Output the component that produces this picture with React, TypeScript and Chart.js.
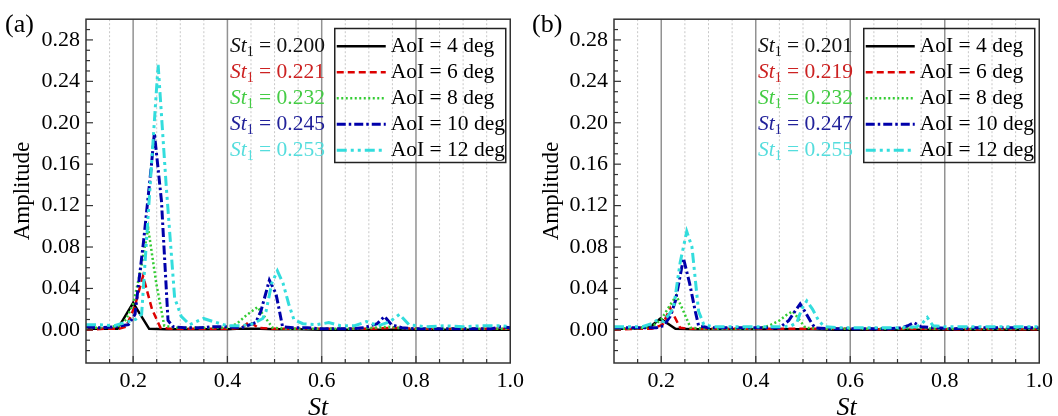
import React, { useEffect, useRef } from 'react';
import { Chart, registerables } from 'chart.js';
Chart.register(...registerables);

const FONT = "'Liberation Serif', 'Times New Roman', serif";

// ---- labels ----
const SERIES_LABELS = ['AoI = 4 deg', 'AoI = 6 deg', 'AoI = 8 deg', 'AoI = 10 deg', 'AoI = 12 deg'];
const ST1_A = ['0.200', '0.221', '0.232', '0.245', '0.253'];
const ST1_B = ['0.201', '0.219', '0.232', '0.247', '0.255'];
const PANEL_TAGS = ['(a)', '(b)'];
const X_TITLE = 'St';
const Y_TITLE = 'Amplitude';
const X_MIN = 0.1;
const X_MAX = 1.0;
const Y_MIN = -0.032;
const Y_MAX = 0.3;

// ---- panel (a) ----
const aX4 = [0.10, 0.13, 0.167, 0.200, 0.234, 0.27, 0.30, 0.35, 0.40, 0.42, 0.45, 0.47, 0.50, 0.55, 0.60, 0.65, 0.70, 0.75, 0.80, 0.85, 0.90, 0.95, 1.00];
const aY4 = [0.001, 0.001, 0.001, 0.026, 0.001, 0.0005, 0.0005, 0.0005, 0.0005, 0.001, 0.001, 0.001, 0.0005, 0.0005, 0.0, 0.0, 0.0, 0.0, 0.0, 0.0, 0.0, 0.0, 0.0];

const aX6 = [0.10, 0.14, 0.17, 0.185, 0.203, 0.221, 0.240, 0.258, 0.28, 0.32, 0.36, 0.40, 0.43, 0.447, 0.465, 0.50, 0.55, 0.60, 0.65, 0.70, 0.75, 0.80, 0.85, 0.90, 0.95, 1.00];
const aY6 = [0.000, 0.001, 0.001, 0.003, 0.022, 0.052, 0.020, 0.002, 0.001, 0.001, 0.001, 0.001, 0.002, 0.008, 0.002, 0.001, 0.001, 0.001, 0.001, 0.001, 0.002, 0.001, 0.001, 0.001, 0.001, 0.001];

const aX8 = [0.10, 0.14, 0.17, 0.185, 0.200, 0.216, 0.232, 0.249, 0.266, 0.29, 0.33, 0.37, 0.40, 0.42, 0.44, 0.464, 0.48, 0.496, 0.53, 0.57, 0.62, 0.67, 0.71, 0.74, 0.78, 0.83, 0.88, 0.93, 0.97, 1.00];
const aY8 = [0.002, 0.002, 0.004, 0.010, 0.025, 0.058, 0.098, 0.045, 0.004, 0.002, 0.002, 0.002, 0.002, 0.006, 0.014, 0.022, 0.012, 0.002, 0.001, 0.001, 0.001, 0.001, 0.002, 0.003, 0.001, 0.001, 0.001, 0.001, 0.001, 0.001];

const aX10 = [0.10, 0.13, 0.16, 0.19, 0.204, 0.222, 0.239, 0.245, 0.260, 0.274, 0.285, 0.31, 0.34, 0.37, 0.40, 0.43, 0.46, 0.471, 0.489, 0.503, 0.517, 0.54, 0.57, 0.60, 0.63, 0.66, 0.69, 0.718, 0.733, 0.748, 0.77, 0.80, 0.84, 0.88, 0.92, 0.96, 0.98, 1.00];
const aY10 = [0.003, 0.002, 0.003, 0.005, 0.015, 0.085, 0.160, 0.190, 0.125, 0.009, 0.003, 0.002, 0.002, 0.003, 0.003, 0.002, 0.007, 0.018, 0.048, 0.035, 0.003, 0.002, 0.002, 0.001, 0.001, 0.001, 0.002, 0.006, 0.013, 0.005, 0.002, 0.001, 0.001, 0.001, 0.001, 0.001, 0.003, 0.002];

const aX12 = [0.10, 0.13, 0.16, 0.19, 0.205, 0.218, 0.253, 0.270, 0.288, 0.302, 0.32, 0.349, 0.37, 0.40, 0.43, 0.455, 0.475, 0.482, 0.494, 0.506, 0.518, 0.530, 0.541, 0.56, 0.59, 0.615, 0.64, 0.67, 0.695, 0.72, 0.745, 0.765, 0.785, 0.82, 0.86, 0.90, 0.94, 0.98, 1.00];
const aY12 = [0.005, 0.005, 0.004, 0.008, 0.010, 0.015, 0.256, 0.140, 0.031, 0.013, 0.005, 0.011, 0.008, 0.004, 0.004, 0.006, 0.011, 0.018, 0.045, 0.057, 0.045, 0.025, 0.010, 0.006, 0.005, 0.007, 0.004, 0.004, 0.008, 0.004, 0.008, 0.015, 0.005, 0.003, 0.004, 0.003, 0.004, 0.004, 0.003];

// ---- panel (b) ----
const bX4 = [0.10, 0.14, 0.177, 0.198, 0.230, 0.27, 0.32, 0.37, 0.42, 0.47, 0.52, 0.57, 0.62, 0.67, 0.72, 0.77, 0.82, 0.87, 0.92, 0.97, 1.00];
const bY4 = [0.001, 0.001, 0.003, 0.011, 0.001, 0.0005, 0.0005, 0.0005, 0.0005, 0.0005, 0.0005, 0.0, 0.0, 0.0, 0.0, 0.0, 0.0, 0.0, 0.0, 0.0, 0.0];

const bX6 = [0.10, 0.14, 0.18, 0.203, 0.219, 0.240, 0.26, 0.30, 0.35, 0.40, 0.45, 0.486, 0.52, 0.57, 0.62, 0.67, 0.72, 0.77, 0.82, 0.87, 0.92, 0.97, 1.00];
const bY6 = [0.000, 0.001, 0.001, 0.005, 0.021, 0.002, 0.001, 0.001, 0.001, 0.001, 0.001, 0.001, 0.001, 0.001, 0.001, 0.0005, 0.001, 0.001, 0.0005, 0.0005, 0.0005, 0.0005, 0.0005];

const bX8 = [0.10, 0.14, 0.18, 0.20, 0.216, 0.232, 0.247, 0.262, 0.30, 0.35, 0.40, 0.428, 0.45, 0.464, 0.478, 0.492, 0.505, 0.54, 0.58, 0.62, 0.66, 0.70, 0.74, 0.78, 0.82, 0.86, 0.90, 0.95, 1.00];
const bY8 = [0.001, 0.001, 0.003, 0.010, 0.022, 0.033, 0.018, 0.002, 0.001, 0.001, 0.001, 0.004, 0.009, 0.014, 0.018, 0.010, 0.002, 0.001, 0.001, 0.001, 0.001, 0.001, 0.002, 0.001, 0.001, 0.001, 0.001, 0.001, 0.001];

const bX10 = [0.10, 0.13, 0.16, 0.19, 0.205, 0.219, 0.230, 0.247, 0.260, 0.272, 0.279, 0.30, 0.33, 0.36, 0.39, 0.42, 0.45, 0.470, 0.480, 0.494, 0.505, 0.515, 0.525, 0.56, 0.60, 0.64, 0.68, 0.71, 0.722, 0.735, 0.75, 0.78, 0.82, 0.86, 0.90, 0.94, 0.98, 1.00];
const bY10 = [0.002, 0.002, 0.002, 0.002, 0.004, 0.013, 0.028, 0.069, 0.045, 0.018, 0.004, 0.002, 0.002, 0.002, 0.002, 0.002, 0.002, 0.009, 0.016, 0.025, 0.017, 0.009, 0.002, 0.001, 0.001, 0.001, 0.001, 0.002, 0.004, 0.007, 0.003, 0.002, 0.001, 0.002, 0.002, 0.002, 0.002, 0.002];

const bX12 = [0.10, 0.13, 0.16, 0.18, 0.19, 0.205, 0.226, 0.240, 0.254, 0.265, 0.279, 0.290, 0.31, 0.34, 0.37, 0.40, 0.43, 0.46, 0.475, 0.487, 0.497, 0.508, 0.520, 0.533, 0.545, 0.58, 0.62, 0.66, 0.70, 0.74, 0.752, 0.763, 0.775, 0.80, 0.84, 0.88, 0.92, 0.96, 1.00];
const bY12 = [0.003, 0.003, 0.003, 0.006, 0.009, 0.008, 0.021, 0.065, 0.095, 0.080, 0.018, 0.005, 0.003, 0.003, 0.003, 0.003, 0.003, 0.003, 0.004, 0.007, 0.020, 0.028, 0.020, 0.009, 0.003, 0.002, 0.002, 0.002, 0.002, 0.003, 0.006, 0.012, 0.004, 0.003, 0.003, 0.003, 0.003, 0.003, 0.003];

// ---- styles ----
const LINE_COLORS = ['#000000', '#dd0000', '#33cc33', '#0000aa', '#33dddd'];
const TEXT_COLORS = ['#111111', '#cc2222', '#44cc44', '#22229a', '#55dddd'];
const LINE_DASHES: number[][] = [[], [7, 4], [2, 2.5], [9, 3, 2.5, 3], [10, 4, 3, 4, 3, 4]];
const LINE_WIDTHS = [2.5, 2.5, 2.5, 3, 3];

const isMult = (v: number, step: number) => Math.abs(v / step - Math.round(v / step)) < 1e-6;

function buildDatasets(xs: number[][], ys: number[][]) {
  return xs.map((xArr, k) => ({
    label: SERIES_LABELS[k],
    data: xArr.map((x, i) => ({ x, y: ys[k][i] })),
    borderColor: LINE_COLORS[k],
    backgroundColor: LINE_COLORS[k],
    borderDash: LINE_DASHES[k],
    borderWidth: LINE_WIDTHS[k],
    pointRadius: 0,
    fill: false,
    tension: 0,
    order: 5 - k,
  }));
}

const framePlugin = {
  id: 'frame',
  beforeDatasetsDraw(chart: any) {
    const { ctx, chartArea, scales } = chart;
    const { top, bottom } = chartArea;
    const x = scales.x;
    ctx.save();
    x.ticks.forEach((t: any) => {
      const v = t.value;
      if (v <= x.min + 1e-9 || v >= x.max - 1e-9) return;
      const px = x.getPixelForValue(v);
      const major = isMult(v, 0.2);
      ctx.beginPath();
      ctx.strokeStyle = major ? '#929292' : '#c8c8c8';
      ctx.lineWidth = major ? 1.5 : 1;
      ctx.setLineDash(major ? [] : [2, 2]);
      ctx.moveTo(px, top);
      ctx.lineTo(px, bottom);
      ctx.stroke();
    });
    ctx.restore();
  },
  afterDatasetsDraw(chart: any) {
    const { ctx, chartArea, scales } = chart;
    const { left, right, top, bottom } = chartArea;
    const x = scales.x;
    const y = scales.y;
    ctx.save();
    ctx.strokeStyle = '#333333';
    ctx.lineWidth = 1.2;
    ctx.setLineDash([]);
    x.ticks.forEach((t: any) => {
      const v = t.value;
      if (v <= x.min + 1e-9 || v >= x.max - 1e-9) return;
      const px = x.getPixelForValue(v);
      const len = isMult(v, 0.2) ? 7 : 4;
      ctx.beginPath();
      ctx.moveTo(px, bottom);
      ctx.lineTo(px, bottom - len);
      ctx.stroke();
    });
    y.ticks.forEach((t: any) => {
      const v = t.value;
      if (v <= y.min + 1e-9 || v >= y.max - 1e-9) return;
      const py = y.getPixelForValue(v);
      const len = isMult(v, 0.04) ? 7 : 4;
      ctx.beginPath();
      ctx.moveTo(left, py);
      ctx.lineTo(left + len, py);
      ctx.stroke();
    });
    ctx.lineWidth = 1.5;
    ctx.strokeRect(left, top, right - left, bottom - top);
    ctx.restore();
  },
  afterDraw(chart: any, _args: any, opts: any) {
    const { ctx, chartArea } = chart;
    const { left, right, top } = chartArea;
    ctx.save();
    ctx.textBaseline = 'middle';
    // panel tag
    ctx.fillStyle = '#000';
    ctx.textAlign = 'left';
    ctx.font = `26px ${FONT}`;
    ctx.fillText(opts.tag, opts.tagX, 25);
    // x title
    ctx.textAlign = 'center';
    ctx.font = `italic 26px ${FONT}`;
    ctx.fillText(X_TITLE, (left + right) / 2 + 20, chart.height - 8);

    const rowY = (i: number) => top + 27 + i * 26;
    // St1 annotations
    ctx.textAlign = 'left';
    (opts.st as string[]).forEach((val, i) => {
      const yy = rowY(i);
      let xx = left + 144;
      ctx.fillStyle = TEXT_COLORS[i];
      ctx.font = `italic 21.5px ${FONT}`;
      ctx.fillText('St', xx, yy);
      xx += ctx.measureText('St').width;
      ctx.font = `14px ${FONT}`;
      ctx.fillText('1', xx, yy + 6);
      xx += ctx.measureText('1').width;
      ctx.font = `21.5px ${FONT}`;
      ctx.fillText(' = ' + val, xx, yy);
    });
    // legend
    const boxW = 171;
    const boxL = right - 4.5 - boxW;
    const boxT = top + 9.3;
    const boxH = 134;
    ctx.strokeStyle = '#222';
    ctx.lineWidth = 1.5;
    ctx.setLineDash([]);
    ctx.strokeRect(boxL, boxT, boxW, boxH);
    chart.data.datasets.forEach((ds: any, i: number) => {
      const yy = rowY(i);
      ctx.beginPath();
      ctx.strokeStyle = ds.borderColor;
      ctx.lineWidth = ds.borderWidth;
      ctx.setLineDash(ds.borderDash || []);
      ctx.moveTo(boxL + 2, yy);
      ctx.lineTo(boxL + 51, yy);
      ctx.stroke();
      ctx.setLineDash([]);
      ctx.fillStyle = '#000';
      ctx.font = `21.5px ${FONT}`;
      ctx.fillText(ds.label, boxL + 56, yy);
    });
    ctx.restore();
  },
};

function makeConfig(datasets: any[], yWidth: number, padRight: number, tag: string, tagX: number, st: string[]) {
  return {
    type: 'line' as const,
    data: { datasets },
    options: {
      responsive: false,
      animation: false as const,
      layout: { padding: { left: 0, right: padRight, top: 16, bottom: 0 } },
      plugins: {
        legend: { display: false },
        tooltip: { enabled: false },
        frame: { tag, tagX, st },
      },
      scales: {
        x: {
          type: 'linear' as const,
          min: X_MIN,
          max: X_MAX,
          grid: { display: false, drawTicks: false },
          border: { display: false },
          ticks: {
            stepSize: 0.05,
            autoSkip: false,
            maxRotation: 0,
            padding: 5,
            color: '#000',
            font: { family: FONT, size: 22 },
            callback: (v: any) => (isMult(Number(v), 0.2) ? Number(v).toFixed(1) : ''),
          },
          afterFit: (s: any) => { s.height = 53; },
        },
        y: {
          type: 'linear' as const,
          min: Y_MIN,
          max: Y_MAX,
          grid: { display: false, drawTicks: false },
          border: { display: false },
          ticks: {
            stepSize: 0.01,
            autoSkip: false,
            padding: 6,
            color: '#000',
            font: { family: FONT, size: 22 },
            callback: (v: any) => {
              const n = Number(v);
              return isMult(n, 0.04) && n > -1e-9 && n < 0.2801 ? Math.abs(n).toFixed(2) : '';
            },
          },
          title: {
            display: true,
            text: Y_TITLE,
            color: '#000',
            font: { family: FONT, size: 23, lineHeight: 1 },
            padding: { top: 11.5, bottom: 0 },
          },
          afterFit: (s: any) => { s.width = yWidth; },
        },
      },
      elements: { point: { radius: 0 }, line: { tension: 0 } },
    },
    plugins: [framePlugin],
  };
}

export default function App() {
  const refA = useRef<HTMLCanvasElement>(null);
  const refB = useRef<HTMLCanvasElement>(null);
  useEffect(() => {
    const dsA = buildDatasets([aX4, aX6, aX8, aX10, aX12], [aY4, aY6, aY8, aY10, aY12]);
    const dsB = buildDatasets([bX4, bX6, bX8, bX10, bX12], [bY4, bY6, bY8, bY10, bY12]);
    const ca = new Chart(refA.current as HTMLCanvasElement, makeConfig(dsA, 86, 13.4, PANEL_TAGS[0], 5, ST1_A) as any);
    const cb = new Chart(refB.current as HTMLCanvasElement, makeConfig(dsB, 85, 14.5, PANEL_TAGS[1], 3, ST1_B) as any);
    return () => { ca.destroy(); cb.destroy(); };
  }, []);
  return (
    <div style={{ position: 'absolute', left: 0, top: 0, width: 1058, height: 416, background: '#fff' }}>
      <canvas ref={refA} width={529} height={416} style={{ position: 'absolute', left: 0, top: 0, width: 529, height: 416 }} />
      <canvas ref={refB} width={529} height={416} style={{ position: 'absolute', left: 529, top: 0, width: 529, height: 416 }} />
    </div>
  );
}
